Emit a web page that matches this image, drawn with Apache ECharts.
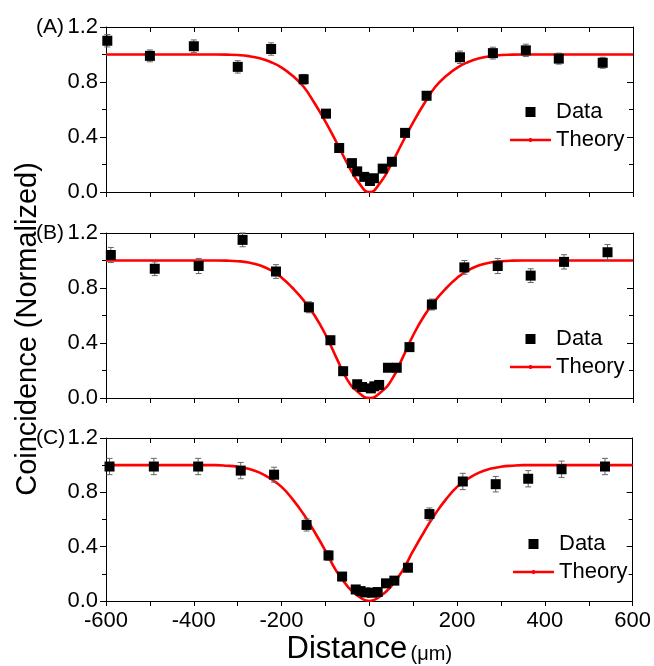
<!doctype html>
<html lang="en">
<head>
    <meta charset="utf-8">
    <title>Coincidence vs distance</title>
    <script src="https://cdn.jsdelivr.net/npm/echarts@6/dist/echarts.min.js"></script>
    <style>
        html, body { margin: 0; padding: 0; background: #fff; }
        #chart { width: 654px; height: 666px; }
    </style>
</head>
<body>
    <div id="chart"></div>
    <script>
        // panel (A)
        const dataAX = [-597, -500, -400, -300, -224, -150, -99, -69, -40, -28, -12, 1, 10, 30, 51, 81, 130, 206, 281, 356, 431, 531];
        const dataAY = [1.10, 0.99, 1.06, 0.91, 1.04, 0.82, 0.57, 0.32, 0.21, 0.15, 0.11, 0.08, 0.10, 0.17, 0.22, 0.43, 0.70, 0.98, 1.01, 1.03, 0.97, 0.94];
        const errA = [0.045, 0.043, 0.046, 0.045, 0.045, 0.035, 0.03, 0.02, 0.02, 0.02, 0.02, 0.02, 0.02, 0.02, 0.02, 0.025, 0.03, 0.045, 0.043, 0.045, 0.04, 0.04];
        // panel (B)
        const dataBX = [-589, -489, -389, -289, -213, -138, -89, -60, -28, -17, 3, 11, 22, 42, 62, 91, 142, 216, 292, 367, 443, 542];
        const dataBY = [1.04, 0.94, 0.96, 1.15, 0.92, 0.66, 0.42, 0.195, 0.10, 0.08, 0.07, 0.085, 0.095, 0.22, 0.22, 0.37, 0.68, 0.95, 0.96, 0.89, 0.99, 1.06];
        const errB = [0.055, 0.05, 0.055, 0.05, 0.05, 0.04, 0.03, 0.02, 0.02, 0.02, 0.02, 0.02, 0.02, 0.02, 0.02, 0.03, 0.04, 0.05, 0.055, 0.05, 0.052, 0.056];
        // panel (C)
        const dataCX = [-592, -491, -390, -293, -217, -143, -93, -62, -31, -20, -9, 6, 19, 38, 57, 88, 137, 213, 288, 362, 438, 537];
        const dataCY = [0.99, 0.99, 0.99, 0.96, 0.93, 0.56, 0.335, 0.18, 0.085, 0.073, 0.063, 0.061, 0.066, 0.13, 0.15, 0.245, 0.64, 0.88, 0.86, 0.90, 0.97, 0.99];
        const errC = [0.06, 0.06, 0.06, 0.06, 0.055, 0.045, 0.035, 0.025, 0.02, 0.02, 0.02, 0.02, 0.02, 0.02, 0.02, 0.025, 0.045, 0.06, 0.057, 0.06, 0.06, 0.06];

        // theory curves (one value every 25 um between -350 and 350)
        const theoryX = [-600, -350, -325, -300, -275, -250, -225, -200, -175, -150, -125, -100, -75, -50, -25, 0,
                         25, 50, 75, 100, 125, 150, 175, 200, 225, 250, 275, 300, 325, 350, 600];
        const theoryA = [1, 1, 0.999, 0.996, 0.988, 0.972, 0.945, 0.905, 0.845, 0.765, 0.645, 0.51, 0.36, 0.205, 0.07, 0,
                         0.07, 0.205, 0.36, 0.51, 0.645, 0.765, 0.845, 0.905, 0.945, 0.972, 0.988, 0.996, 0.999, 1, 1];
        const theoryB = [1, 1, 0.999, 0.995, 0.985, 0.965, 0.93, 0.875, 0.80, 0.71, 0.60, 0.46, 0.29, 0.13, 0.04, 0,
                         0.04, 0.13, 0.29, 0.46, 0.60, 0.71, 0.80, 0.875, 0.93, 0.965, 0.985, 0.995, 0.999, 1, 1];
        const theoryC = [1, 1, 0.996, 0.988, 0.973, 0.945, 0.90, 0.84, 0.75, 0.64, 0.51, 0.37, 0.22, 0.11, 0.035, 0,
                         0.035, 0.11, 0.22, 0.37, 0.51, 0.64, 0.75, 0.84, 0.90, 0.945, 0.973, 0.988, 0.996, 1, 1];

        const panelLabels = ['(A)', '(B)', '(C)'];
        const xTicks = [-600, 600, 200];
        const yTicks = [0, 1.2, 0.4];

        const panels = [
            { x: dataAX, y: dataAY, err: errA, th: theoryA },
            { x: dataBX, y: dataBY, err: errB, th: theoryB },
            { x: dataCX, y: dataCY, err: errC, th: theoryC }
        ];

        const FONT = '"Liberation Sans", Arial, sans-serif';
        const gridTops = [27, 233, 438];
        const gridH = 165;
        const legendTops = [96, 323, 528];
        const legendLefts = [505, 505, 508];

        const chart = echarts.init(document.getElementById('chart'), null, { renderer: 'canvas' });

        const grids = [], xAxes = [], yAxes = [], series = [], legends = [], graphics = [];

        panels.forEach((p, i) => {
            grids.push({ left: 106, right: 21, top: gridTops[i], height: gridH, containLabel: false });
            const last = i === panels.length - 1;
            // bottom x
            xAxes.push({
                gridIndex: i, type: 'value', position: 'bottom',
                min: xTicks[0], max: xTicks[1], interval: xTicks[2],
                axisLine: { show: true, onZero: false, lineStyle: { color: '#000', width: 1 } },
                axisTick: { show: true, inside: false, length: 5, lineStyle: { color: '#000' } },
                minorTick: { show: true, splitNumber: 2, length: 5, lineStyle: { color: '#000' } },
                splitLine: { show: false },
                axisLabel: {
                    show: last, color: '#000', fontSize: 22, fontFamily: FONT, margin: 9,
                    formatter: v => String(v)
                },
                name: last ? '{a|Distance} {b|(\u03bcm)}' : '',
                nameLocation: 'middle', nameGap: 33,
                nameTextStyle: {
                    color: '#000', fontFamily: FONT,
                    rich: {
                        a: { fontSize: 31, fontFamily: FONT, color: '#000', verticalAlign: 'bottom' },
                        b: { fontSize: 20, fontFamily: FONT, color: '#000', verticalAlign: 'bottom', padding: [0, 0, 1, 0] }
                    }
                }
            });
            // top mirror x
            xAxes.push({
                gridIndex: i, type: 'value', position: 'top',
                min: xTicks[0], max: xTicks[1], interval: xTicks[2],
                axisLine: { show: true, onZero: false, lineStyle: { color: '#000', width: 1 } },
                axisTick: { show: true, inside: true, length: 5, lineStyle: { color: '#000' } },
                minorTick: { show: true, splitNumber: 2, length: 5, lineStyle: { color: '#000' } },
                splitLine: { show: false },
                axisLabel: { show: false }
            });
            // left y
            yAxes.push({
                gridIndex: i, type: 'value', position: 'left',
                min: yTicks[0], max: yTicks[1], interval: yTicks[2],
                axisLine: { show: true, onZero: false, lineStyle: { color: '#000', width: 1 } },
                axisTick: { show: true, inside: false, length: 6, lineStyle: { color: '#000' } },
                minorTick: { show: true, splitNumber: 2, length: 4, lineStyle: { color: '#000' } },
                splitLine: { show: false },
                axisLabel: {
                    color: '#000', fontSize: 22, fontFamily: FONT, margin: 8,
                    formatter: v => v.toFixed(1)
                }
            });
            // right mirror y
            yAxes.push({
                gridIndex: i, type: 'value', position: 'right',
                min: yTicks[0], max: yTicks[1], interval: yTicks[2],
                axisLine: { show: true, onZero: false, lineStyle: { color: '#000', width: 1 } },
                axisTick: { show: true, inside: true, length: 6, lineStyle: { color: '#000' } },
                minorTick: { show: true, splitNumber: 2, length: 4, lineStyle: { color: '#000' } },
                splitLine: { show: false },
                axisLabel: { show: false }
            });

            const xi = i * 2, yi = i * 2;

            series.push({
                name: 'Theory', type: 'line', xAxisIndex: xi, yAxisIndex: yi,
                data: theoryX.map((x, k) => [x, p.th[k]]),
                smooth: 0.5,
                showSymbol: false, symbol: 'circle', symbolSize: 3,
                lineStyle: { color: '#ff0000', width: 2.6 },
                itemStyle: { color: '#ff0000' },
                z: 2, silent: true, animation: false
            });
            series.push({
                name: 'ErrorBars', type: 'custom', xAxisIndex: xi, yAxisIndex: yi,
                data: p.x.map((x, k) => [x, p.y[k] - p.err[k], p.y[k] + p.err[k]]),
                encode: { x: 0, y: [1, 2] },
                renderItem: (params, api) => {
                    const x = api.value(0);
                    const top = api.coord([x, api.value(2)]);
                    const bot = api.coord([x, api.value(1)]);
                    const cw = 3;
                    const st = { stroke: '#666', lineWidth: 1 };
                    return {
                        type: 'group',
                        children: [
                            { type: 'line', shape: { x1: top[0], y1: top[1], x2: bot[0], y2: bot[1] }, style: st },
                            { type: 'line', shape: { x1: top[0] - cw, y1: top[1], x2: top[0] + cw, y2: top[1] }, style: st },
                            { type: 'line', shape: { x1: bot[0] - cw, y1: bot[1], x2: bot[0] + cw, y2: bot[1] }, style: st }
                        ]
                    };
                },
                z: 3, silent: true, animation: false
            });
            series.push({
                name: 'Data', type: 'scatter', xAxisIndex: xi, yAxisIndex: yi,
                data: p.x.map((x, k) => [x, p.y[k]]),
                symbol: 'rect', symbolSize: 10,
                itemStyle: { color: '#000', opacity: 1 },
                z: 4, silent: true, animation: false
            });

            legends.push({
                left: legendLefts[i], top: legendTops[i], orient: 'vertical',
                itemWidth: 41, itemHeight: 10, itemGap: 6,
                symbolKeepAspect: true, selectedMode: false,
                textStyle: { color: '#000', fontSize: 22, fontFamily: FONT },
                data: [
                    { name: 'Data', icon: 'path://M0,0H10V10H0Z', itemStyle: { color: '#000', opacity: 1 } },
                    { name: 'Theory', icon: 'path://M0,1.3H41V3.7H0Z M19.3,0.5H21.7V4.5H19.3Z', itemStyle: { color: '#ff0000' } }
                ]
            });

            graphics.push({
                type: 'text', left: 36, top: gridTops[i] - 10,
                style: { text: panelLabels[i], fontSize: 21, fontFamily: FONT, fill: '#000' }
            });
        });

        graphics.push({
            type: 'text', x: 28, y: 329, rotation: Math.PI / 2,
            style: {
                text: 'Coincidence (Normalized)', fontSize: 29, fontFamily: FONT, fill: '#000',
                align: 'center', verticalAlign: 'middle'
            }
        });

        chart.setOption({
            backgroundColor: '#fff',
            animation: false,
            grid: grids,
            xAxis: xAxes,
            yAxis: yAxes,
            legend: legends,
            graphic: graphics,
            series: series
        });
    </script>
</body>
</html>
